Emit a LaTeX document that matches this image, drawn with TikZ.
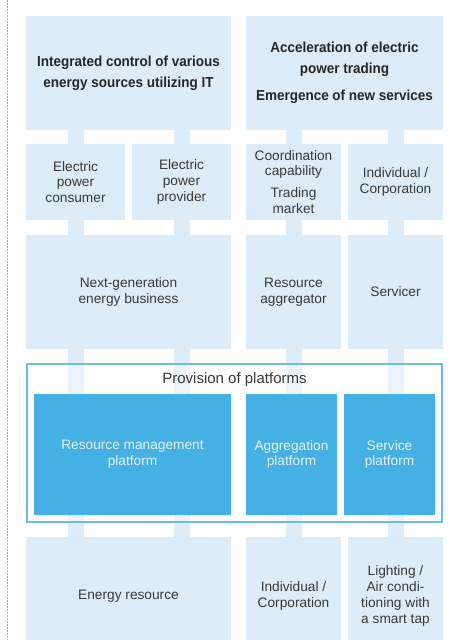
\documentclass[tikz,border=0pt]{standalone}
\usepackage{fontspec}
\setmainfont{Liberation Sans}[BoldFeatures={FakeStretch=0.93}]
\usetikzlibrary{positioning}
\definecolor{paleblue}{HTML}{DCECF8}
\definecolor{deepblue}{HTML}{45B0E3}
\definecolor{rimblue}{HTML}{6CBDE0}
\definecolor{inktext}{HTML}{3A3A3A}
\definecolor{paletext}{HTML}{E4F2FB}
\pgfdeclarelayer{linklayer}
\pgfdeclarelayer{framelayer}
\pgfsetlayers{linklayer,framelayer,main}
\tikzset{
    field/.style={fill=paleblue, text=inktext, align=center, inner sep=0pt, font=\fontsize{13.7}{15.8}\selectfont},
    headfield/.style={field, text=black!85, font=\fontsize{14.5}{21}\selectfont\bfseries},
    platfield/.style={field, fill=deepblue, text=paletext},
    link/.style={draw=paleblue, line width=16pt},
    rim/.style={draw=rimblue, line width=1.2pt, fill=white, fill opacity=0.45}
}
\begin{document}
\begin{tikzpicture}[x=1pt, y=-1pt]
    \useasboundingbox (0,0) rectangle (468,640);
    \clip (0,0) rectangle (468,640);
    \draw[gray!70, line width=0.7pt, dash pattern=on 1.5pt off 1.5pt] (7,0) -- (7,640);

    % Nodes
    \node[headfield, minimum width=205pt, minimum height=114pt] (intctrl) at (128.5,73) {Integrated control of various\\energy sources utilizing IT};
    \node[headfield, minimum width=197pt, minimum height=114pt] (accel) at (344.5,73) {Acceleration of electric\\power trading\\[6pt]Emergence of new services};

    \node[field, minimum width=99pt, minimum height=76pt] (cons) at (75.5,182) {Electric\\power\\consumer};
    \node[field, minimum width=99pt, minimum height=76pt] (provider) at (181.5,182) {Electric\\power\\provider};
    \node[field, minimum width=95pt, minimum height=76pt] (coord) at (293.5,182) {Coordination\\capability\\[6pt]Trading\\market};
    \node[field, minimum width=95pt, minimum height=76pt] (indiv) at (395.5,182) {Individual /\\Corporation};

    \node[field, minimum width=205pt, minimum height=114pt] (nextgen) at (128.5,292) {Next-generation\\energy business};
    \node[field, minimum width=95pt, minimum height=114pt] (aggr) at (293.5,292) {Resource\\aggregator};
    \node[field, minimum width=95pt, minimum height=114pt] (serv) at (395.5,292) {Servicer};

    \begin{pgfonlayer}{framelayer}
    \node[rim, minimum width=415pt, minimum height=158pt] (pform) at (234.5,443) {};
    \end{pgfonlayer}
    \node[text=inktext, font=\fontsize{15}{18}\selectfont] (ptitle) at (234.5,380) {Provision of platforms};

    \node[platfield, minimum width=197pt, minimum height=121pt] (rmp) at (132.5,454.5) {Resource management\\platform};
    \node[platfield, minimum width=91pt, minimum height=121pt] (aggp) at (291.5,454.5) {Aggregation\\platform};
    \node[platfield, minimum width=91pt, minimum height=121pt] (servp) at (389.5,454.5) {Service\\platform};

    \node[field, minimum width=205pt, minimum height=118pt] (energy) at (128.5,596) {Energy resource};
    \node[field, minimum width=95pt, minimum height=118pt] (indivb) at (293.5,596) {Individual /\\Corporation};
    \node[field, minimum width=95pt, minimum height=118pt] (lighting) at (395.5,596) {Lighting /\\Air condi-\\tioning with\\a smart tap};

    % links
    \begin{pgfonlayer}{linklayer}
    \draw[link] (cons |- intctrl.south) -- (cons |- energy);
    \draw[link] (provider |- intctrl.south) -- (provider |- energy);
    \draw[link] (coord |- accel.south) -- (coord |- indivb);
    \draw[link] (indiv |- accel.south) -- (indiv |- lighting);
    \end{pgfonlayer}
\end{tikzpicture}
\end{document}
